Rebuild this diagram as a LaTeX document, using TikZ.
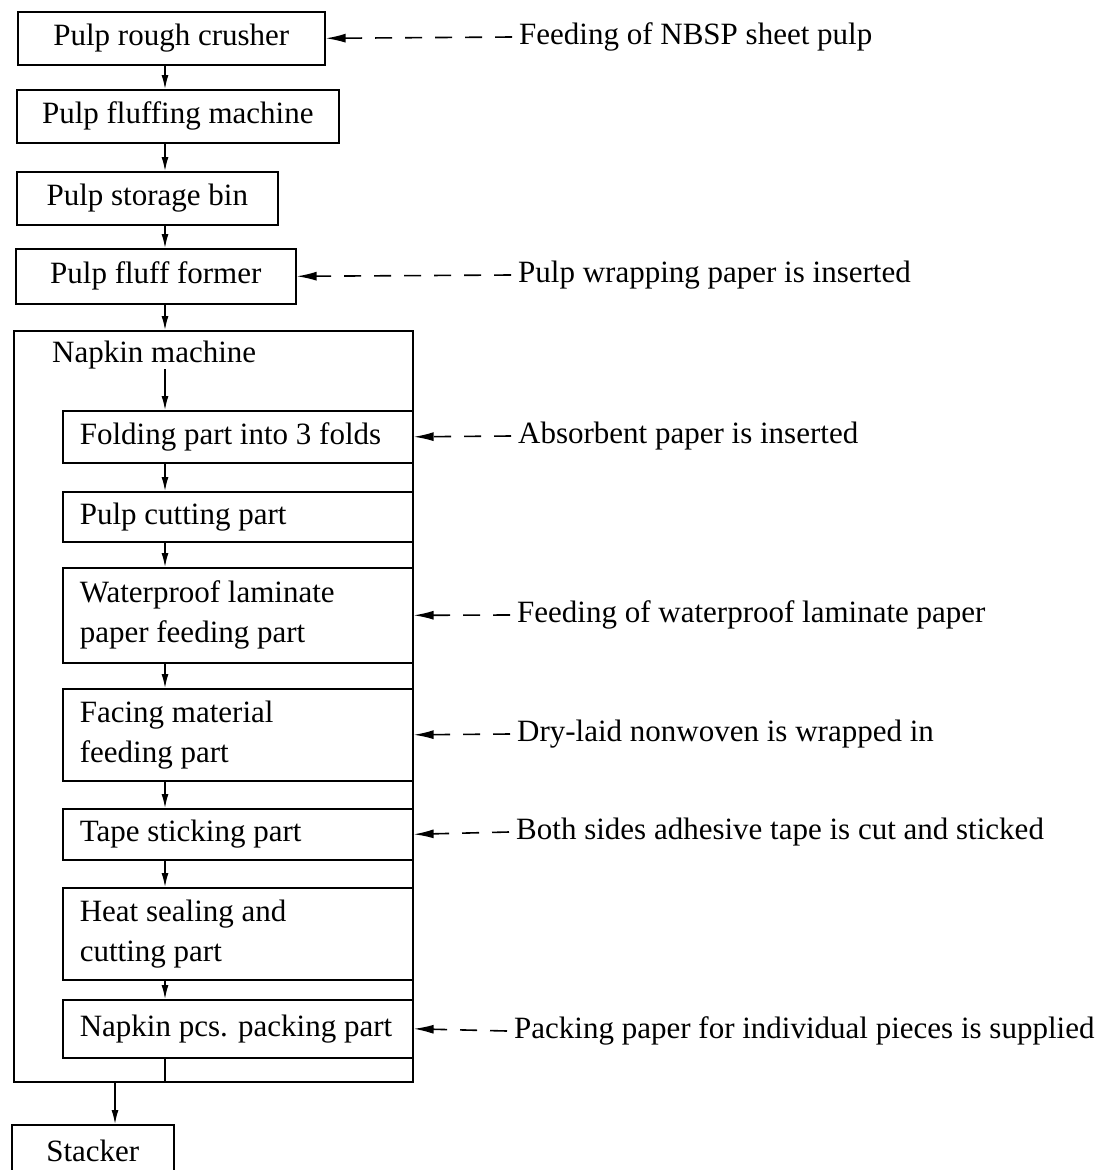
\documentclass[tikz,border=0pt]{standalone}
\usepackage{fontspec}
\setmainfont{Liberation Serif}
\usetikzlibrary{
  arrows.meta,
  positioning,
}
\tikzset{
  >={Latex[length=14pt,width=7pt]},
  block/.style={rectangle,draw,line width=1.6pt,anchor=north west,inner sep=0pt},
  part/.style={block,text width=316pt,align=flush left,inner xsep=17pt,minimum height=#1},
  flow/.style={line width=1.4pt},
  feed/.style={-{Latex[length=20pt,width=9pt]},line width=1.6pt,dash pattern=on 17pt off 13pt},
  note/.style={anchor=west,inner xsep=7pt,inner ysep=2pt},
}

\begin{document}
\begin{tikzpicture}[x=1pt,y=-1pt,font=\fontsize{31}{40}\selectfont]

        \useasboundingbox (0,0) rectangle (1105,1170);
        \coordinate (spine) at (165,0);
        \coordinate (drop) at (115,0);

        % pulp line
        \node[block,minimum width=307pt,minimum height=53pt] (crusher) at (17,11) {Pulp rough crusher};
        \node[block,minimum width=322pt,minimum height=53pt] (fluffing) at (16,89) {Pulp fluffing machine};
        \node[block,minimum width=261pt,minimum height=53pt] (bin) at (16,171) {Pulp storage bin};
        \node[block,minimum width=280pt,minimum height=55pt] (former) at (15,248) {Pulp fluff former};

        % napkin machine
        \node[block,minimum width=399pt,minimum height=751pt] (napkin) at (13,330) {};
        \node[anchor=west,inner sep=0pt] (napkintitle) at (52,355) {Napkin machine};
        \node[part=52pt] (folding) at (62,410) {Folding part into 3 folds};
        \node[part=50pt] (cutting) at (62,491) {Pulp cutting part};
        \node[part=95pt] (laminate) at (62,567) {Waterproof laminate\\paper feeding part};
        \node[part=92pt] (facing) at (62,688) {Facing material\\feeding part};
        \node[part=51pt] (tape) at (62,808) {Tape sticking part};
        \node[part=92pt] (sealing) at (62,887) {Heat sealing and\\cutting part};
        \node[part=58pt] (packing) at (62,999) {Napkin pcs. packing part};

        \node[block,minimum width=162pt,minimum height=53pt] (stacker) at (11,1124) {Stacker};

        % supplies
        \node[note] (nbsp) at (512,37) {Feeding of NBSP sheet pulp};
        \node[note] (wrapping) at (511,275) {Pulp wrapping paper is inserted};
        \node[note] (absorbent) at (511,436) {Absorbent paper is inserted};
        \node[note] (waterproof) at (510,615) {Feeding of waterproof laminate paper};
        \node[note] (drylaid) at (510,734) {Dry-laid nonwoven is wrapped in};
        \node[note] (adhesive) at (509,832) {Both sides adhesive tape is cut and sticked};
        \node[note] (packpaper) at (507,1031) {Packing paper for individual pieces is supplied};

        \draw[flow,->] (crusher.south -| spine) -- (fluffing.north -| spine);
        \draw[flow,->] (fluffing.south -| spine) -- (bin.north -| spine);
        \draw[flow,->] (bin.south -| spine) -- (former.north -| spine);
        \draw[flow,->] (former.south -| spine) -- (napkin.north -| spine);
        \draw[flow,->] (napkintitle.south -| spine) -- (folding.north -| spine);
        \draw[flow,->] (folding.south -| spine) -- (cutting.north -| spine);
        \draw[flow,->] (cutting.south -| spine) -- (laminate.north -| spine);
        \draw[flow,->] (laminate.south -| spine) -- (facing.north -| spine);
        \draw[flow,->] (facing.south -| spine) -- (tape.north -| spine);
        \draw[flow,->] (tape.south -| spine) -- (sealing.north -| spine);
        \draw[flow,->] (sealing.south -| spine) -- (packing.north -| spine);
        \draw[flow] (packing.south -| spine) -- (napkin.south -| spine);
        \draw[flow,->] (napkin.south -| drop) -- (stacker.north -| drop);

        \draw[feed] (nbsp.west) -- (crusher.east);
        \draw[feed] (wrapping.west) -- (former.east);
        \draw[feed] (absorbent.west) -- (folding.east);
        \draw[feed] (waterproof.west) -- (laminate.east);
        \draw[feed] (drylaid.west) -- (facing.east);
        \draw[feed] (adhesive.west) -- (tape.east);
        \draw[feed] (packpaper.west) -- (packing.east);

      \end{tikzpicture}
\end{document}
